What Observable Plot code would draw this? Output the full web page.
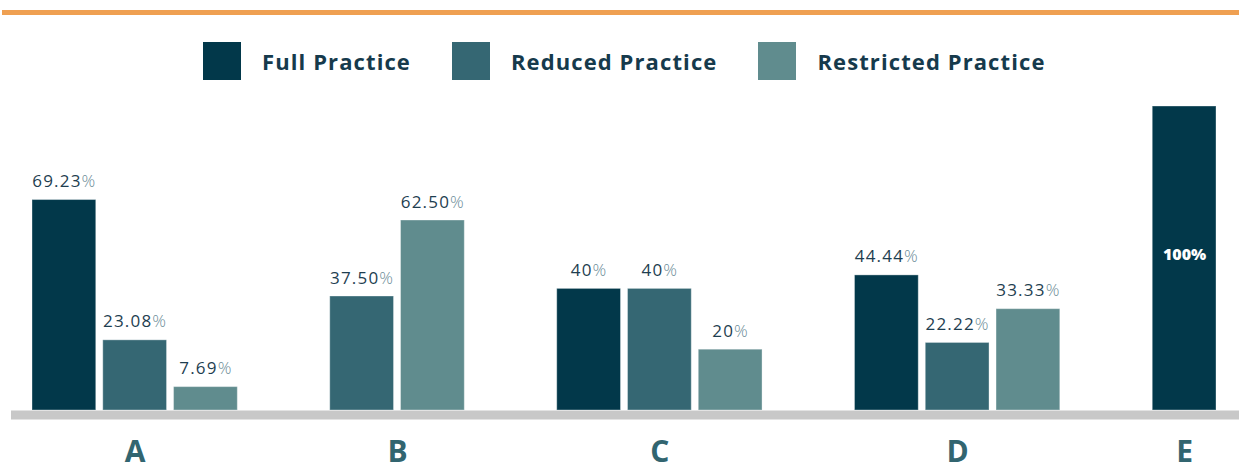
<!DOCTYPE html>
<html>
<head>
<meta charset="utf-8">
<script src="https://cdn.jsdelivr.net/npm/d3@7"></script>
<script src="https://cdn.jsdelivr.net/npm/@observablehq/plot@0.6"></script>
<style>
  body { margin: 0; background: #fff; font-family: "Open Sans", sans-serif; }
  #wrap { position: relative; width: 1239px; height: 470px; overflow: hidden; }
  #topline { position: absolute; left: 2px; right: 0; top: 10px; height: 5px; background: #efa052; }
  #legend { position: absolute; top: 42px; left: 203px; display: flex; align-items: center; height: 38px; }
  .item { display: flex; align-items: center; margin-right: 41px; }
  .sw { width: 38px; height: 38px; margin-right: 21px; }
  .lab { font-size: 22px; font-weight: 700; letter-spacing: 1.1px; color: #163a4c; white-space: nowrap; }
  #chart { position: absolute; left: 0; top: 0; }
</style>
</head>
<body>
<div id="wrap">
  <div id="chart"></div>
  <div id="topline"></div>
  <div id="legend"></div>
</div>
<script>
// ---- data ----
const categories = ["A", "B", "C", "D", "E"];
const seriesNames = ["Full Practice", "Reduced Practice", "Restricted Practice"];
const fullValues = [69.23, null, 40, 44.44, 100];
const reducedValues = [23.08, 37.50, 40, 22.22, null];
const restrictedValues = [7.69, 62.50, 20, 33.33, null];
const seriesColors = ["#02384a", "#356773", "#608c8e"];

// ---- layout (in bar-width units) ----
const barW = 1, innerGap = 0.11, groupGap = 1.45;
const seriesValues = [fullValues, reducedValues, restrictedValues];
const rows = [];
const groups = [];
let pos = 0;
categories.forEach((cat, ci) => {
  if (ci > 0) pos += groupGap;
  const start = pos;
  let n = 0;
  seriesNames.forEach((s, si) => {
    const v = seriesValues[si][ci];
    if (v == null) return;
    if (n > 0) pos += innerGap;
    rows.push({cat, series: s, value: v, x1: pos, x2: pos + barW, cx: pos + barW / 2});
    pos += barW;
    n++;
  });
  groups.push({cat, center: (start + pos) / 2});
});
const total = pos;

const fmt = v => Number.isInteger(v) ? String(v) : v.toFixed(2);

// legend
const legend = document.getElementById("legend");
seriesNames.forEach((s, i) => {
  const it = document.createElement("div");
  it.className = "item";
  it.innerHTML = `<div class="sw" style="background:${seriesColors[i]}"></div><div class="lab">${s}</div>`;
  legend.appendChild(it);
});

const chart = Plot.plot({
  width: 1239,
  height: 470,
  marginTop: 106,
  marginBottom: 60,
  marginLeft: 32,
  marginRight: 23,
  style: {fontFamily: "'Open Sans', sans-serif", background: "transparent"},
  x: {domain: [0, total], axis: null},
  y: {domain: [0, 100], axis: null},
  color: {domain: seriesNames, range: seriesColors},
  marks: [
    Plot.rect(rows, {x1: "x1", x2: "x2", y1: 0, y2: "value", fill: "series", stroke: "#ffffff", strokeOpacity: 0.35, strokeWidth: 1}),
    Plot.ruleY([0], {stroke: "#c8c8c8", strokeWidth: 9, dy: 4.5, insetLeft: -21, insetRight: -23}),
    Plot.text(rows.filter(d => d.value < 100), {
      x: "cx", y: "value", text: d => fmt(d.value) + "%",
      dy: -13, lineAnchor: "bottom", fontSize: 17, fill: "#1e3e50"
    }),
    Plot.text(rows.filter(d => d.value >= 100), {
      x: "cx", y: d => d.value / 2, text: d => fmt(d.value) + "%",
      dy: -4, lineAnchor: "middle", fontSize: 16, fontWeight: 800, fill: "#ffffff"
    }),
    Plot.text(groups, {
      x: "center", y: 0, text: "cat", dy: 51, lineAnchor: "bottom",
      fontSize: 30, fontWeight: 700, fill: "#326570"
    })
  ]
});

// lighter percent sign on value labels, wider tracking
d3.select(chart).selectAll("text").each(function() {
  const t = this.textContent;
  const m = /^([\d.]+)%$/.exec(t);
  if (m && t !== "100%") {
    this.textContent = m[1];
    d3.select(this).attr("letter-spacing", "1.2px");
    d3.select(this).append("tspan").attr("fill", "#6d8d98").attr("font-weight", 300).text("%");
  }
});

document.getElementById("chart").appendChild(chart);
</script>
</body>
</html>
